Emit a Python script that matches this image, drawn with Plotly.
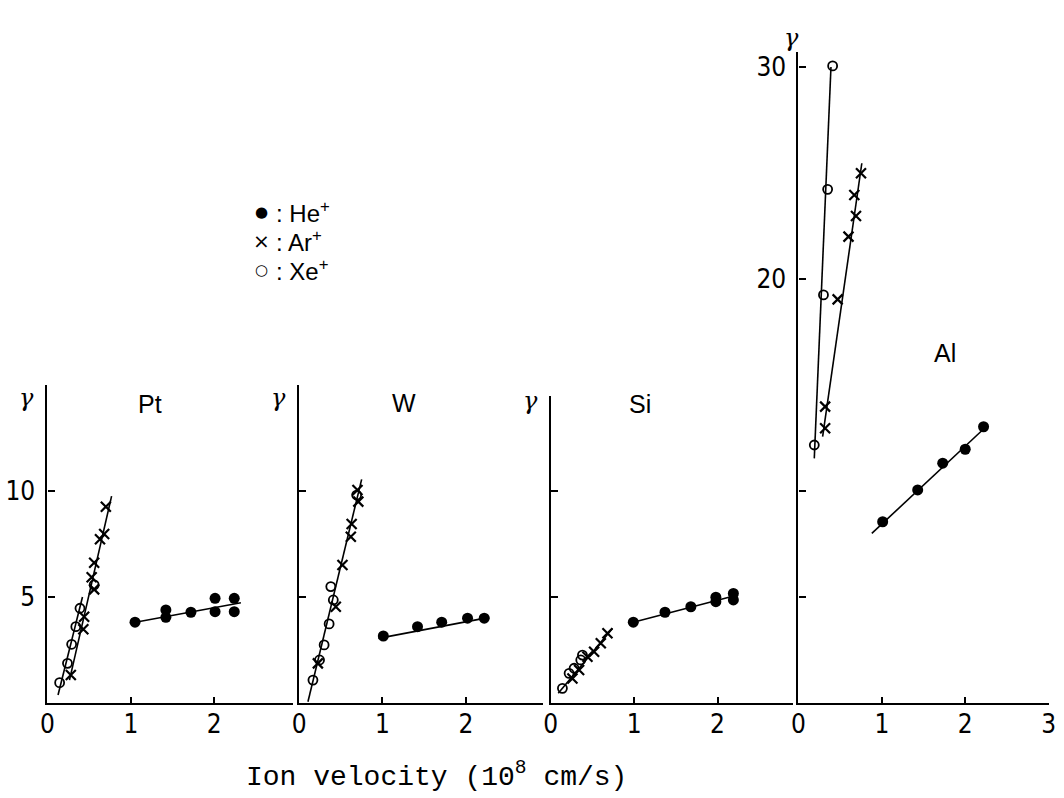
import plotly.graph_objects as go

W_PX, H_PX = 1064, 798

# ---------------- data (ion velocity in 1e8 cm/s, gamma) ----------------
panels = ["Pt", "W", "Si", "Al"]

# Pt
pt_he_v = [1.05, 1.42, 1.42, 1.72, 2.01, 2.01, 2.24, 2.24]
pt_he_g = [3.81, 4.39, 4.04, 4.28, 4.94, 4.31, 4.94, 4.31]
pt_ar_v = [0.28, 0.43, 0.44, 0.53, 0.56, 0.56, 0.63, 0.68, 0.70]
pt_ar_g = [1.32, 3.48, 4.07, 5.93, 5.36, 6.62, 7.72, 7.97, 9.26]
pt_xe_v = [0.146, 0.24, 0.29, 0.34, 0.39, 0.56]
pt_xe_g = [0.96, 1.87, 2.77, 3.60, 4.47, 5.57]
pt_he_fit_v = [0.99, 2.32]
pt_he_fit_g = [3.76, 4.73]
pt_ar_fit_v = [0.264, 0.769]
pt_ar_fit_g = [1.08, 9.76]
pt_xe_fit_v = [0.127, 0.42]
pt_xe_fit_g = [0.38, 5.0]

# W
w_he_v = [1.01, 1.42, 1.71, 2.02, 2.22]
w_he_g = [3.16, 3.60, 3.81, 4.00, 4.00]
w_ar_v = [0.225, 0.44, 0.52, 0.62, 0.63, 0.71, 0.70]
w_ar_g = [1.87, 4.54, 6.51, 7.84, 8.44, 9.50, 10.05]
w_xe_v = [0.166, 0.245, 0.30, 0.36, 0.41, 0.38, 0.69]
w_xe_g = [1.08, 2.03, 2.74, 3.73, 4.86, 5.49, 9.81]
w_he_fit_v = [0.95, 2.28]
w_he_fit_g = [3.05, 4.04]
w_low_fit_v = [0.106, 0.75]
w_low_fit_g = [0.06, 10.55]

# Si
si_he_v = [0.99, 1.37, 1.68, 1.98, 1.98, 2.19, 2.19]
si_he_g = [3.81, 4.28, 4.54, 4.99, 4.78, 5.17, 4.86]
si_ar_v = [0.26, 0.34, 0.44, 0.52, 0.60, 0.68]
si_ar_g = [1.16, 1.56, 2.18, 2.42, 2.82, 3.29]
si_xe_v = [0.14, 0.22, 0.28, 0.36, 0.38]
si_xe_g = [0.69, 1.40, 1.64, 2.03, 2.26]
si_he_fit_v = [0.99, 2.24]
si_he_fit_g = [3.81, 5.09]
si_low_fit_v = [0.09, 0.74]
si_low_fit_g = [0.46, 3.52]

# Al
al_he_v = [1.01, 1.43, 1.73, 2.00, 2.22]
al_he_g = [8.55, 10.05, 11.31, 11.97, 13.03]
al_ar_v = [0.32, 0.32, 0.47, 0.60, 0.69, 0.67, 0.75]
al_ar_g = [12.96, 13.98, 19.04, 22.0, 22.97, 23.96, 24.99]
al_xe_v = [0.19, 0.30, 0.35, 0.41]
al_xe_g = [12.17, 19.25, 24.23, 30.05]
al_he_fit_v = [0.88, 2.23]
al_he_fit_g = [8.0, 12.96]
al_ar_fit_v = [0.29, 0.76]
al_ar_fit_g = [12.56, 25.46]
al_xe_fit_v = [0.19, 0.39]
al_xe_fit_g = [11.54, 30.0]

x_ticks = [[0, 1, 2], [0, 1, 2], [0, 1, 2], [0, 1, 2, 3]]
x_tick_labels = [["0", "1", "2"], ["0", "1", "2"], ["0", "1", "2"], ["0", "1", "2", "3"]]
y_ticks = [[5, 10], [5, 10], [5, 10], [20, 30]]
y_tick_labels = [["5", "10"], None, None, ["20", "30"]]
y_minor_ticks = [None, None, None, [5, 10]]

# ---------------- layout geometry (pixels) ----------------
x_origin_px = [41, 296, 551, 802]
x_max = [2.95, 2.93, 2.90, 3.0]
y_max = [15.0, 15.0, 14.5, 30.7]
PX_PER_V = 84.5
PX_PER_G = 21.2
Y0_PX = 703

TICK_FONT = dict(family="Liberation Sans Narrow, DejaVu Sans Condensed, Arial Narrow, Liberation Sans",
                 size=26, color="black")
TEXT_FONT = "Liberation Sans, Arial, sans-serif"

fig = go.Figure()

series = [
    (pt_he_v, pt_he_g, pt_ar_v, pt_ar_g, pt_xe_v, pt_xe_g,
     [(pt_he_fit_v, pt_he_fit_g), (pt_ar_fit_v, pt_ar_fit_g), (pt_xe_fit_v, pt_xe_fit_g)]),
    (w_he_v, w_he_g, w_ar_v, w_ar_g, w_xe_v, w_xe_g,
     [(w_he_fit_v, w_he_fit_g), (w_low_fit_v, w_low_fit_g)]),
    (si_he_v, si_he_g, si_ar_v, si_ar_g, si_xe_v, si_xe_g,
     [(si_he_fit_v, si_he_fit_g), (si_low_fit_v, si_low_fit_g)]),
    (al_he_v, al_he_g, al_ar_v, al_ar_g, al_xe_v, al_xe_g,
     [(al_he_fit_v, al_he_fit_g), (al_ar_fit_v, al_ar_fit_g), (al_xe_fit_v, al_xe_fit_g)]),
]

for i, (hv, hg, av, ag, xv, xg, fits) in enumerate(series):
    xa = "x" if i == 0 else f"x{i+1}"
    ya = "y" if i == 0 else f"y{i+1}"
    for fv, fg in fits:
        fig.add_trace(go.Scatter(x=fv, y=fg, mode="lines", xaxis=xa, yaxis=ya,
                                 line=dict(color="black", width=1.6), showlegend=False,
                                 hoverinfo="skip"))
    fig.add_trace(go.Scatter(x=xv, y=xg, mode="markers", xaxis=xa, yaxis=ya, showlegend=False,
                             marker=dict(symbol="circle-open", size=9, color="black",
                                         line=dict(width=1.8, color="black")), cliponaxis=False))
    fig.add_trace(go.Scatter(x=av, y=ag, mode="markers", xaxis=xa, yaxis=ya, showlegend=False,
                             marker=dict(symbol="x-thin", size=10, color="black",
                                         line=dict(width=2.2, color="black")), cliponaxis=False))
    fig.add_trace(go.Scatter(x=hv, y=hg, mode="markers", xaxis=xa, yaxis=ya, showlegend=False,
                             marker=dict(symbol="circle", size=11, color="black",
                                         line=dict(width=0)), cliponaxis=False))

layout = dict(width=W_PX, height=H_PX, autosize=False,
              margin=dict(l=0, r=0, t=0, b=0, pad=0),
              paper_bgcolor="white", plot_bgcolor="white", showlegend=False)

for i in range(4):
    xkey = "xaxis" if i == 0 else f"xaxis{i+1}"
    ykey = "yaxis" if i == 0 else f"yaxis{i+1}"
    x0 = x_origin_px[i]
    x1 = x0 + PX_PER_V * x_max[i]
    ytop = Y0_PX - PX_PER_G * y_max[i]
    layout[xkey] = dict(domain=[x0 / W_PX, x1 / W_PX], range=[0, x_max[i]],
                        anchor="y" if i == 0 else f"y{i+1}",
                        showline=True, linecolor="black", linewidth=2.2,
                        showgrid=False, zeroline=False, ticks="inside", ticklen=6,
                        tickwidth=1.6, tickcolor="black",
                        tickmode="array", tickvals=x_ticks[i],
                        ticktext=x_tick_labels[i], tickfont=TICK_FONT,
                        ticklabelstandoff=-3, fixedrange=True)
    yax = dict(domain=[1 - Y0_PX / H_PX, 1 - ytop / H_PX], range=[0, y_max[i]],
               anchor="x" if i == 0 else f"x{i+1}",
               showline=True, linecolor="black", linewidth=2.2,
               showgrid=False, zeroline=False, ticks="inside", ticklen=7,
               tickwidth=1.6, tickcolor="black",
               tickmode="array", tickvals=y_ticks[i], tickfont=TICK_FONT,
               ticklabelstandoff=5, fixedrange=True)
    if y_tick_labels[i] is None:
        yax["showticklabels"] = False
    else:
        yax["ticktext"] = y_tick_labels[i]
    if y_minor_ticks[i] is not None:
        yax["minor"] = dict(tickmode="array", tickvals=y_minor_ticks[i], ticks="inside",
                            ticklen=7, tickwidth=1.6, tickcolor="black", showgrid=False)
    layout[ykey] = yax

fig.update_layout(**layout)

def ann(text, xpx, ypx, size, family=TEXT_FONT, xanchor="center", yanchor="middle"):
    fig.add_annotation(text=text, x=xpx / W_PX, y=1 - ypx / H_PX, xref="paper", yref="paper",
                       showarrow=False, xanchor=xanchor, yanchor=yanchor,
                       font=dict(family=family, size=size, color="black"))

# panel labels
ann("Pt", 145, 404, 25)
ann("W", 402, 403, 25)
ann("Si", 641, 404, 25)
ann("Al", 950, 353, 25)

# gamma labels
for gx, gy in [(20, 398), (275, 398), (530, 401), (795, 38)]:
    ann("<i>γ</i>", gx, gy, 24, family="DejaVu Serif, serif")

# legend
leg_rows = [("●", "He"), ("×", "Ar"), ("○", "Xe")]
leg_y = [212, 241, 270]
leg_sym_size = [15, 20, 15]
for (sym, ion), yy, ss in zip(leg_rows, leg_y, leg_sym_size):
    ann(sym, 257.5, yy, ss, family="DejaVu Sans")
    ann(": " + ion + "<sup>+</sup>", 271, yy, 24, xanchor="left")

# x-axis title
ann("Ion velocity (10<sup>8</sup> cm/s)", 435, 775, 28, family="Liberation Mono, DejaVu Sans Mono, monospace")

fig.write_html("out.html")
